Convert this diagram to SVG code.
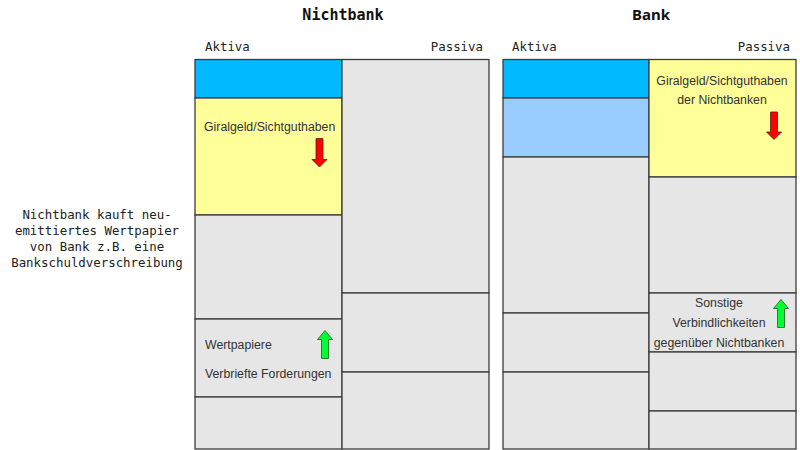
<svg xmlns="http://www.w3.org/2000/svg" width="800" height="450" viewBox="0 0 800 450">
<style>
.box{stroke:#3c3c3c;stroke-width:1.3}
.gray{fill:#e6e6e6}
.blue{fill:#00b9ff}
.lblue{fill:#99ccff}
.yellow{fill:#ffff99}
.mono{font-family:"DejaVu Sans Mono","Liberation Mono",monospace;font-size:12.4px;fill:#222}
.title{font-family:"DejaVu Sans Mono","Liberation Mono",monospace;font-size:15px;font-weight:bold;fill:#111}
.btitle{font-family:"Noto Sans","Liberation Sans",sans-serif;font-size:15px;font-weight:bold;fill:#111}
.lbl{font-family:"Liberation Sans","Noto Sans",sans-serif;font-size:12.3px;fill:#333}
.down{fill:#ff0000;stroke:#5a2020;stroke-width:0.8}
.up{fill:#00ff33;stroke:#205a20;stroke-width:0.8}
</style>
<rect width="800" height="450" fill="#ffffff"/>

<g id="caption">
<text class="mono" text-anchor="middle" x="97" y="219">Nichtbank kauft neu-</text>
<text class="mono" text-anchor="middle" x="97" y="235">emittiertes Wertpapier</text>
<text class="mono" text-anchor="middle" x="97" y="251">von Bank z.B. eine</text>
<text class="mono" text-anchor="middle" x="97" y="267">Bankschuldverschreibung</text>
</g>

<g id="nichtbank">
<text class="title" text-anchor="middle" x="343" y="20">Nichtbank</text>
<text class="mono" x="205" y="51">Aktiva</text>
<text class="mono" text-anchor="end" x="483" y="51">Passiva</text>
<g id="nb-a-blue"><rect class="box blue" x="195" y="59.5" width="147" height="38.5"/></g>
<g id="nb-a-giral"><rect class="box yellow" x="195" y="98" width="147" height="117"/>
<text class="lbl" x="204" y="131">Giralgeld/Sichtguthaben</text>
<path class="down" d="M316,138.5 H323 V159.5 H327 L319.5,167 L312,159.5 H316 Z"/></g>
<g id="nb-a-gray1"><rect class="box gray" x="195" y="215" width="147" height="104"/></g>
<g id="nb-a-wp"><rect class="box gray" x="195" y="319" width="147" height="78"/>
<text class="lbl" x="205" y="349">Wertpapiere</text>
<text class="lbl" x="205" y="378">Verbriefte Forderungen</text>
<path class="up" d="M321.5,358.5 H328.5 V339.5 H332.5 L325,330.5 L317.5,339.5 H321.5 Z"/></g>
<g id="nb-a-gray2"><rect class="box gray" x="195" y="397" width="147" height="52"/></g>
<g id="nb-p-1"><rect class="box gray" x="342" y="59.5" width="147" height="233.5"/></g>
<g id="nb-p-2"><rect class="box gray" x="342" y="293" width="147" height="79"/></g>
<g id="nb-p-3"><rect class="box gray" x="342" y="372" width="147" height="77"/></g>
</g>

<g id="bank">
<text class="btitle" text-anchor="middle" x="651" y="20">Bank</text>
<text class="mono" x="512" y="51">Aktiva</text>
<text class="mono" text-anchor="end" x="790" y="51">Passiva</text>
<g id="b-a-blue"><rect class="box blue" x="503" y="59.5" width="146" height="38.5"/></g>
<g id="b-a-lblue"><rect class="box lblue" x="503" y="98" width="146" height="59"/></g>
<g id="b-a-gray1"><rect class="box gray" x="503" y="157" width="146" height="156"/></g>
<g id="b-a-gray2"><rect class="box gray" x="503" y="313" width="146" height="59"/></g>
<g id="b-a-gray3"><rect class="box gray" x="503" y="372" width="146" height="77"/></g>
<g id="b-p-giral"><rect class="box yellow" x="649" y="59.5" width="147" height="117.5"/>
<text class="lbl" text-anchor="middle" x="722" y="85">Giralgeld/Sichtguthaben</text>
<text class="lbl" text-anchor="middle" x="722" y="104">der Nichtbanken</text>
<path class="down" d="M770.5,112 H777.5 V132 H781.5 L774,139.5 L766.5,132 H770.5 Z"/></g>
<g id="b-p-gray1"><rect class="box gray" x="649" y="177" width="147" height="116"/></g>
<g id="b-p-sonst"><rect class="box gray" x="649" y="293" width="147" height="59"/>
<text class="lbl" text-anchor="middle" x="719" y="307">Sonstige</text>
<text class="lbl" text-anchor="middle" x="719" y="327">Verbindlichkeiten</text>
<text class="lbl" text-anchor="middle" x="719" y="347">gegenüber Nichtbanken</text>
<path class="up" d="M777.5,327.5 H784.5 V308.5 H788.5 L781,299.5 L773.5,308.5 H777.5 Z"/></g>
<g id="b-p-gray2"><rect class="box gray" x="649" y="352" width="147" height="59"/></g>
<g id="b-p-gray3"><rect class="box gray" x="649" y="411" width="147" height="38"/></g>
</g>

<g id="connectors"></g>
</svg>
